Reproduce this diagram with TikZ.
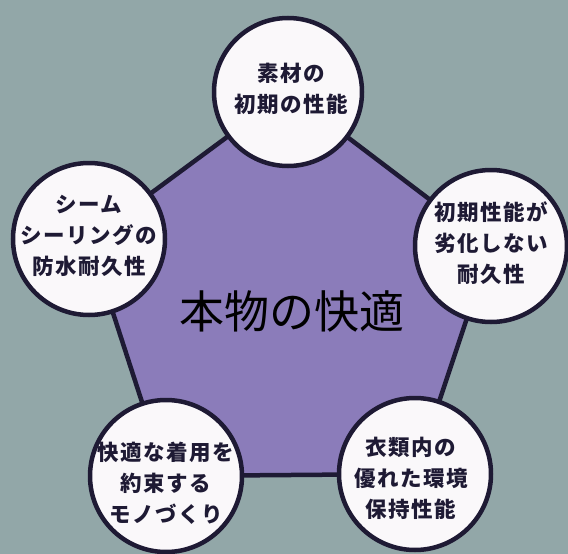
\documentclass[tikz,border=0pt]{standalone}
\usepackage{fontspec}
\newfontfamily\jp{Noto Sans CJK JP}[LetterSpace=7]
\newfontfamily\jpc{Noto Sans CJK JP}
\definecolor{bgc}{RGB}{146,167,168}
\definecolor{pent}{RGB}{139,124,186}
\definecolor{edge}{RGB}{30,26,52}
\definecolor{disc}{RGB}{250,248,250}
\begin{document}
\begin{tikzpicture}[x=1pt,y=-1pt,
  bubble/.style={circle,draw=edge,line width=4.5pt,fill=disc,minimum size=152pt,inner sep=0pt},
  btext/.style={align=center,text=edge,font=\jp\bfseries\fontsize{21.5}{31}\selectfont},
  ctext/.style={text=black,font=\jpc\fontsize{45}{50}\selectfont}]
\useasboundingbox (0,0) rectangle (568,554);
\fill[bgc] (0,0) rectangle (568,554);
\begin{scope}
\clip (0,0) rectangle (568,554);
\coordinate (t) at (288,92);
\coordinate (l) at (89,239);
\coordinate (r) at (491,246);
\coordinate (bl) at (166,476);
\coordinate (br) at (415,474);
\draw[edge,line width=4.5pt,fill=pent,line join=round] (t) -- (r) -- (br) -- (bl) -- (l) -- cycle;
\node[ctext] (c) at (292,311) {本物の快適};
\node[bubble,minimum size=148pt] (nt) at (t) {};
\node[bubble] (nl) at (l) {};
\node[bubble] (nr) at (r) {};
\node[bubble] (nbl) at (bl) {};
\node[bubble] (nbr) at (br) {};
\node[btext] (tt) at (291,89) {素材の\\初期の性能};
\node[btext] (tl) at (89,236) {シーム\\シーリングの\\防水耐久性};
\node[btext] (tr) at (491,243) {初期性能が\\劣化しない\\耐久性};
\node[btext] (tbl) at (166,483) {快適な着用を\\約束する\\モノづくり};
\node[btext] (tbr) at (411,478) {衣類内の\\優れた環境\\保持性能};
\end{scope}
\end{tikzpicture}
\end{document}
